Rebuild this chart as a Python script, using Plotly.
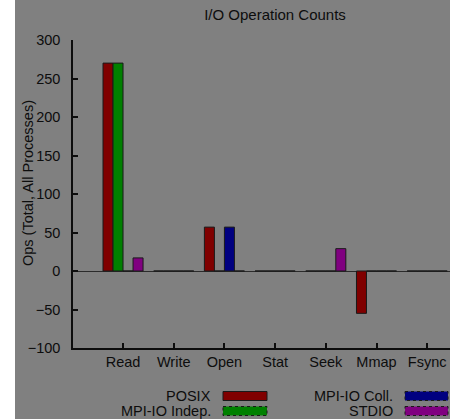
import plotly.graph_objects as go

# I/O operation counts per interface
operations = ["Read", "Write", "Open", "Stat", "Seek", "Mmap", "Fsync"]
posix = [270, 0, 57, 0, 0, -55, 0]
mpiio_indep = [270, 0, 0, 0, 0, 0, 0]
mpiio_coll = [0, 0, 57, 0, 0, 0, 0]
stdio = [17, 0, 0, 0, 29, 0, 0]

series_names = ["POSIX", "MPI-IO Indep.", "MPI-IO Coll.", "STDIO"]
series_values = [posix, mpiio_indep, mpiio_coll, stdio]
series_colors = ["#800000", "#008000", "#000080", "#800080"]
key_dash = ["solid", "dot", "dot", "dot"]

W, H = 450, 419
ML, MR, MT, MB = 73, 0, 40, 71
PW, PH = W - ML - MR, H - MT - MB

BG = "#808080"
INK = "#0d0d0d"
FONT = "Liberation Sans, Arial, Helvetica, sans-serif"


def px(x):
    return (x - ML) / PW


def py(y):
    return (H - MB - y) / PH


fig = go.Figure()
for name, vals, col in zip(series_names, series_values, series_colors):
    fig.add_trace(go.Bar(
        x=operations, y=vals, name=name,
        marker=dict(color=col, line=dict(color="#1a1a1a", width=1)),
        showlegend=False,
    ))

# key: label text right-aligned, followed by a swatch
key_slots = [
    (213, 223, 267, 396),  # POSIX
    (213, 223, 267, 411),  # MPI-IO Indep.
    (395, 405, 448, 396),  # MPI-IO Coll.
    (395, 405, 448, 411),  # STDIO
]
shapes = [
    # white strip on the far left of the canvas
    dict(type="rect", xref="paper", yref="paper", x0=px(-5), x1=px(15),
         y0=py(H + 5), y1=py(-5), fillcolor="white", line=dict(width=0),
         layer="below"),
]
annotations = []
for name, col, dash, (tx, bx0, bx1, yc) in zip(series_names, series_colors,
                                               key_dash, key_slots):
    annotations.append(dict(
        text=name, xref="paper", yref="paper", x=px(tx), y=py(yc),
        xanchor="right", yanchor="middle", showarrow=False,
        font=dict(size=14.5, color=INK, family=FONT),
    ))
    shapes.append(dict(
        type="rect", xref="paper", yref="paper",
        x0=px(bx0), x1=px(bx1), y0=py(yc - 4.5), y1=py(yc + 4.5),
        fillcolor=col, line=dict(color="#1a1a1a", width=1, dash=dash),
    ))

annotations.append(dict(
    text="Ops (Total, All Processes)", xref="paper", yref="paper",
    x=px(28), y=py(183), textangle=-90, showarrow=False,
    xanchor="center", yanchor="middle",
    font=dict(size=14.5, color=INK, family=FONT),
))

fig.update_layout(
    width=W, height=H,
    margin=dict(l=ML, r=MR, t=MT, b=MB, pad=0),
    paper_bgcolor=BG, plot_bgcolor=BG,
    barmode="group", bargap=0.21, bargroupgap=0,
    font=dict(family=FONT, size=14, color=INK),
    title=dict(text="I/O Operation Counts", x=275 / W, xanchor="center",
               y=1 - 15 / H, yanchor="middle",
               font=dict(size=15, color=INK, family=FONT)),
    xaxis=dict(
        type="category", range=[-0.987, 6.45],
        showline=True, linecolor=INK, linewidth=1.5,
        ticks="inside", ticklen=5, tickcolor=INK, tickwidth=1.5,
        showgrid=False, zeroline=False,
        tickfont=dict(size=14.5, color=INK, family=FONT),
    ),
    yaxis=dict(
        range=[-100, 300], dtick=50,
        showline=True, linecolor=INK, linewidth=1.5,
        ticks="inside", ticklen=5, tickcolor=INK, tickwidth=1.5,
        showgrid=False,
        zeroline=True, zerolinecolor="#2b2b2b", zerolinewidth=1,
        tickfont=dict(size=14.5, color=INK, family=FONT),
        ticklabelstandoff=8,
    ),
    shapes=shapes,
    annotations=annotations,
)

fig.write_html("out.html")
